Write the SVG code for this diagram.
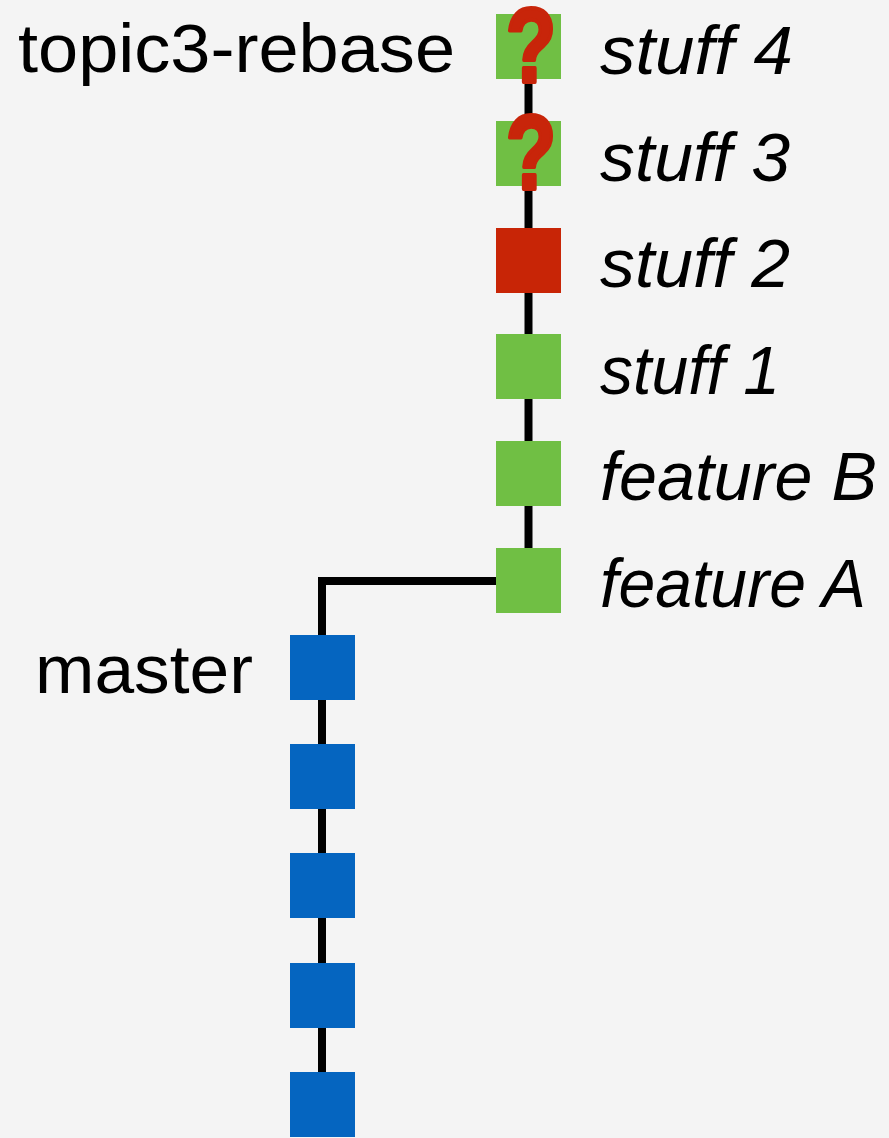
<svg xmlns="http://www.w3.org/2000/svg" width="889" height="1138" viewBox="0 0 889 1138">
<style>
.bg{fill:#f4f4f4}
.g{fill:#70bf44}
.r{fill:#c82506}
.b{fill:#0565c0}
.ln{stroke:#000;stroke-width:8;fill:none}
.lbl{font-family:"Liberation Sans",Arial,sans-serif;font-size:68px;fill:#000}
.it{font-style:italic}
.q{font-family:"Liberation Sans",Arial,sans-serif;font-weight:bold;font-size:106px;fill:#c8250a;stroke:#c8250a;stroke-width:4;stroke-linejoin:round;text-anchor:middle}
</style>
<rect class="bg" x="0" y="0" width="889" height="1138"/>
<g id="connectors">
<path class="ln" d="M528.5,79 V548"/>
<path class="ln" d="M496,581 H322 V1072"/>
</g>
<g id="label-topic3"><text class="lbl" x="18" y="72" textLength="437" lengthAdjust="spacingAndGlyphs">topic3-rebase</text></g>
<g id="label-master"><text class="lbl" x="35" y="693" textLength="218" lengthAdjust="spacingAndGlyphs">master</text></g>
<g id="stuff4"><rect class="g" x="496" y="14" width="65" height="65"/><text class="q" transform="translate(531,82) scale(0.78,1)">?</text><text class="lbl it" x="600" y="74" textLength="193" lengthAdjust="spacingAndGlyphs">stuff 4</text></g>
<g id="stuff3"><rect class="g" x="496" y="121" width="65" height="65"/><text class="q" transform="translate(531,189) scale(0.78,1)">?</text><text class="lbl it" x="600" y="181" textLength="190" lengthAdjust="spacingAndGlyphs">stuff 3</text></g>
<g id="stuff2"><rect class="r" x="496" y="228" width="65" height="65"/><text class="lbl it" x="600" y="287" textLength="190" lengthAdjust="spacingAndGlyphs">stuff 2</text></g>
<g id="stuff1"><rect class="g" x="496" y="334" width="65" height="65"/><text class="lbl it" x="600" y="394" textLength="180" lengthAdjust="spacingAndGlyphs">stuff 1</text></g>
<g id="featureB"><rect class="g" x="496" y="441" width="65" height="65"/><text class="lbl it" x="600" y="500" textLength="277" lengthAdjust="spacingAndGlyphs">feature B</text></g>
<g id="featureA"><rect class="g" x="496" y="548" width="65" height="65"/><text class="lbl it" x="600" y="607" textLength="266" lengthAdjust="spacingAndGlyphs">feature A</text></g>
<g id="m1"><rect class="b" x="290" y="635" width="65" height="65"/></g>
<g id="m2"><rect class="b" x="290" y="744" width="65" height="65"/></g>
<g id="m3"><rect class="b" x="290" y="853" width="65" height="65"/></g>
<g id="m4"><rect class="b" x="290" y="963" width="65" height="65"/></g>
<g id="m5"><rect class="b" x="290" y="1072" width="65" height="65"/></g>
</svg>
